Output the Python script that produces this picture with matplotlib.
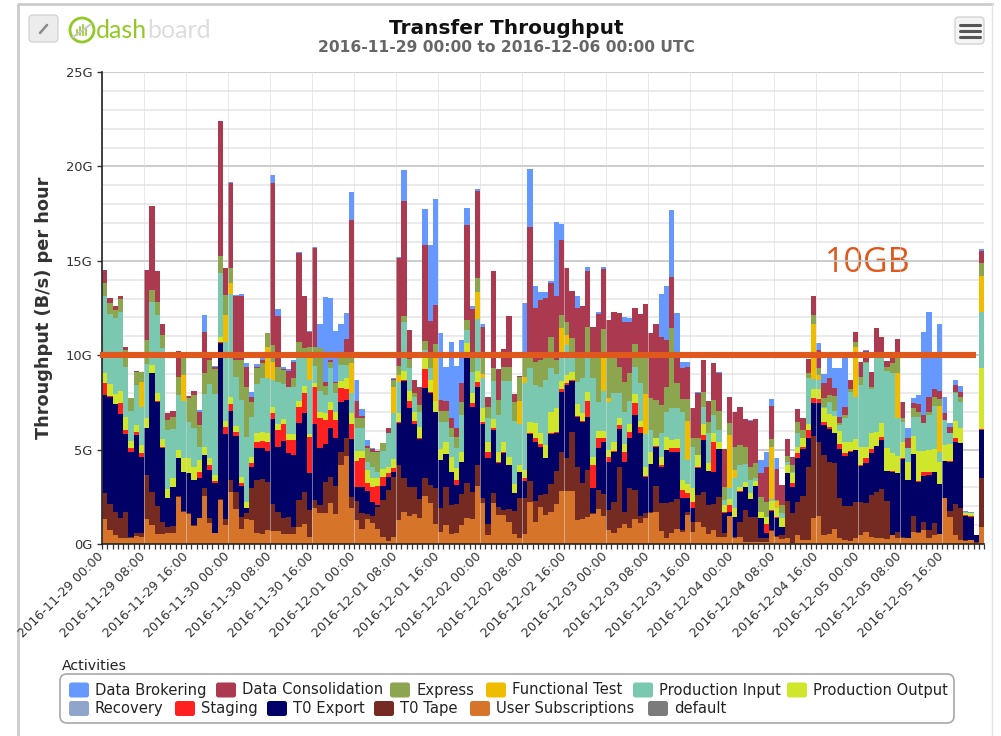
import numpy as np
import matplotlib
matplotlib.use('Agg')
import matplotlib.pyplot as plt
from matplotlib.patches import FancyBboxPatch, Circle, Rectangle

# hourly bars, values are the top of each stacked layer in G
user_top = [
  1.33,.74,.48,.30,.30,.34,.44,.35,1.33,1.01,.53,.53,.60,.60,2.51,1.71,1.59,.97,1.36,2.56,1.10,.57,2.33,1.01,2.77,1.86,.80,1.33,
  1.27,.57,.51,.74,.69,.69,.51,.51,.51,.92,1.04,.39,1.89,1.63,1.63,2.16,1.57,4.19,4.66,1.89,1.27,.80,1.33,1.10,.80,.39,.16,.39,
  1.27,1.71,1.50,1.57,1.40,2.56,2.16,1.04,.62,1.01,.51,.57,1.01,1.36,1.33,3.09,2.16,.48,2.16,1.54,1.54,1.15,.51,.34,.51,2.24,1.18,1.98,
  1.54,1.71,2.10,2.81,2.81,2.81,1.27,1.33,1.45,1.57,1.84,1.50,.74,.57,.87,1.04,.83,1.33,1.10,1.40,1.66,1.71,.69,.34,.57,.80,.65,1.54,
  .65,1.18,.88,.53,.74,.35,.39,1.48,.30,.35,.12,.12,.12,.12,.12,.71,.39,.25,.30,.04,.48,.21,.21,1.40,1.48,.48,.53,.78,
  .30,.21,.16,.30,.48,.65,.39,.30,.30,.27,.48,.30,.30,.30,.62,.60,.74,.34,.48,.53,2.42,1.45,.48,.21,.16,.21,.07,.92]
tape_top = [
  2.69,2.10,1.71,1.36,1.71,.36,.57,.57,3.66,2.74,2.03,1.18,.92,.97,2.53,1.73,1.62,1.0,1.38,2.95,1.36,.6,2.36,1.31,3.39,2.74,1.45,1.63,
  2.99,3.39,3.45,3.30,2.10,1.71,1.36,1.45,.92,2.33,2.74,1.80,2.33,2.07,3.30,3.57,3.09,4.86,5.60,2.51,2.28,1.63,1.57,1.50,1.98,2.33,2.86,3.57,
  4.19,3.52,3.04,3.04,2.39,3.48,3.13,2.99,1.89,3.04,2.07,2.10,2.63,3.22,2.74,4.19,2.42,1.04,2.69,1.98,1.80,1.86,1.75,2.42,2.42,3.34,2.28,2.60,
  2.63,3.16,3.87,4.86,4.54,5.95,4.10,3.22,3.92,1.63,2.86,2.63,1.80,2.24,4.10,1.71,2.99,2.86,1.50,1.63,1.68,3.09,2.16,2.16,2.21,2.39,.74,1.71,
  1.18,2.60,2.77,2.07,2.10,2.47,.60,1.50,.35,1.18,1.80,1.41,1.45,.30,.30,.74,.42,.48,2.30,1.66,2.24,2.56,4.06,5.72,5.42,4.72,4.36,4.28,
  2.42,2.03,2.03,2.24,2.24,2.16,2.60,2.77,2.90,2.28,.50,.65,.35,.32,1.50,.62,1.18,.74,1.10,.55,2.44,1.77,2.10,1.89,.21,.23,.12,3.48]
export_top = [
  7.90,7.81,7.40,6.87,5.81,4.89,5.78,4.63,6.13,9.05,7.54,5.11,2.42,3.00,4.54,3.80,3.75,3.39,3.52,4.72,3.92,3.22,10.62,5.81,7.07,5.74,3.07,1.89,
  4.10,5.07,5.07,4.93,6.63,5.16,5.46,4.81,4.72,6.40,6.96,3.75,6.34,5.07,5.28,6.13,5.60,7.51,7.63,5.57,3.04,3.04,2.81,2.21,2.07,3.07,3.57,3.80,
  6.43,8.64,7.19,6.34,5.57,8.25,7.99,6.98,4.45,4.75,3.80,3.13,4.33,9.93,7.28,8.34,6.34,4.58,6.04,4.31,4.84,4.19,2.69,3.80,3.34,5.85,5.42,5.16,
  4.54,5.81,5.90,8.04,8.43,8.64,6.75,6.48,6.75,2.95,5.11,5.39,4.36,4.89,6.10,4.33,5.64,6.84,5.90,3.57,4.24,5.16,4.10,4.98,4.86,4.86,2.46,2.46,
  1.89,4.05,5.51,3.87,3.83,5.02,1.66,1.71,1.41,2.77,3.00,2.37,3.07,1.36,.60,1.77,1.36,.88,3.75,3.00,4.58,5.02,5.64,7.46,7.46,6.31,6.08,5.87,
  5.04,4.68,4.89,4.98,4.15,4.28,4.81,5.19,5.51,3.87,3.83,3.75,4.51,3.39,4.77,3.30,3.62,3.66,3.80,3.16,4.40,4.36,5.42,5.34,1.50,1.45,.48,6.04]
staging_top = [
  8.52,7.84,7.42,7.46,6.04,5.07,5.95,4.81,6.15,9.07,7.56,5.13,2.44,3.02,4.56,3.82,3.77,3.41,3.80,4.74,4.19,3.36,10.69,6.22,7.40,5.95,3.22,1.91,
  4.31,5.42,5.48,5.42,6.93,6.04,6.34,5.51,5.51,7.26,7.99,5.69,8.29,6.66,6.57,7.10,6.57,8.25,8.22,6.34,4.40,4.54,3.22,3.04,3.07,3.57,3.75,4.05,
  6.45,8.66,7.58,6.52,5.59,9.28,8.04,7.00,4.47,4.77,3.82,3.39,4.35,9.95,7.46,8.60,6.48,4.86,6.13,4.33,4.89,4.21,2.71,3.82,3.48,5.90,5.64,5.28,
  4.56,5.87,5.95,8.22,8.52,8.66,6.77,6.50,7.58,4.19,5.60,5.64,4.63,4.91,6.31,4.89,5.95,7.46,6.22,3.59,4.26,5.18,4.19,5.00,5.07,5.07,2.86,2.69,
  2.24,4.07,5.78,3.89,5.42,5.04,1.68,2.07,1.43,2.79,3.02,2.39,3.09,1.38,1.04,1.80,1.45,.90,3.77,3.25,4.84,5.16,6.04,7.72,7.67,6.48,6.22,5.90,
  5.28,4.81,4.91,5.00,4.17,4.54,5.04,5.21,5.69,3.89,3.85,3.77,4.53,3.41,4.79,3.32,3.80,3.80,3.82,3.18,4.42,4.38,5.63,5.36,1.52,1.47,.50,6.08]
prodout_top = [
  9.05,8.46,7.93,8.11,6.75,5.46,6.31,5.25,6.66,9.49,7.99,5.57,2.92,3.48,4.98,4.54,4.54,4.10,4.45,5.16,4.58,3.66,10.99,6.54,7.77,6.27,3.57,2.21,
  4.63,5.90,5.95,5.90,7.28,6.34,6.61,5.81,5.81,7.58,8.37,5.81,8.52,7.01,6.93,7.54,7.01,8.64,8.78,6.93,4.93,4.93,3.92,3.52,3.52,3.98,4.10,4.51,
  6.93,9.17,8.11,6.98,6.22,9.88,8.69,7.58,5.04,5.42,4.63,4.05,4.89,10.67,7.99,9.17,7.19,5.42,6.63,4.86,5.39,4.63,3.16,4.19,3.92,6.48,6.40,5.87,
  5.25,7.01,7.19,8.64,8.96,9.13,7.40,6.93,8.07,4.63,6.01,6.01,4.98,5.42,6.66,5.28,6.34,7.93,6.52,4.10,4.86,5.60,4.63,5.69,5.51,5.57,3.39,3.16,
  2.95,4.72,6.36,4.28,5.90,5.42,2.07,2.37,1.89,3.04,3.30,2.69,3.36,1.71,1.45,2.30,1.89,1.36,4.19,3.75,5.16,5.60,6.34,8.20,8.20,7.19,6.89,6.78,
  5.99,5.42,5.42,5.55,5.16,5.16,5.87,5.95,6.40,5.07,4.81,4.68,5.42,4.33,5.74,4.93,4.93,4.98,5.04,4.36,5.25,5.28,6.54,6.13,1.66,1.63,.50,9.31]
prodin_top = [
  13.11,12.19,11.96,12.31,9.40,7.05,8.43,7.28,9.52,12.84,12.14,10.37,6.04,6.08,7.90,7.55,6.45,6.13,5.16,7.93,8.46,7.93,14.35,10.72,13.23,8.87,7.63,5.69,
  6.75,8.46,8.78,8.78,8.69,8.60,8.46,8.34,8.29,9.84,9.84,8.69,9.43,8.11,7.90,9.31,7.99,9.49,9.49,7.99,6.17,6.17,4.36,4.10,3.83,4.93,5.87,6.93,
  8.60,11.75,9.31,7.76,6.98,10.28,9.31,7.58,6.45,6.48,5.69,5.07,6.84,11.34,9.13,11.93,8.78,6.66,8.64,6.84,8.64,8.64,6.52,6.34,8.52,9.31,8.43,8.34,
  8.69,9.31,8.99,9.88,10.55,9.88,8.60,8.78,9.88,8.78,7.54,8.11,7.54,7.99,7.99,7.01,7.58,9.40,8.52,5.81,6.04,5.60,5.87,7.01,7.19,7.19,7.01,4.45,
  5.16,4.72,7.28,5.87,6.84,6.04,2.33,2.95,3.48,4.19,4.24,3.39,3.48,1.71,1.45,2.37,1.89,1.63,4.36,3.83,5.87,5.60,8.78,8.73,8.69,7.24,7.54,7.07,
  6.31,6.66,8.07,7.81,8.43,9.58,8.22,9.93,9.93,9.17,9.05,6.66,6.48,5.07,6.75,6.75,6.40,6.84,7.33,4.86,6.57,5.87,7.99,7.51,1.70,1.65,.50,12.31]
# functional test only shows up in a few hours
functest_bars = [7,15,23,24,31,32,39,47,55,56,63,71,72,79,80,87,88,95,96,103,111,119,120,127,128,135,136,143,151,159,167]
functest_tops = [8.60,8.96,12.14,13.82,10.41,9.66,9.88,9.58,8.34,8.96,9.89,13.37,8.99,7.58,8.82,11.43,11.08,10.19,7.72,7.93,6.54,5.78,3.92,5.16,2.30,11.66,8.96,10.42,9.05,7.33,14.22]
express_top = [
  13.82,12.76,12.40,12.97,10.28,7.72,9.13,9.13,10.81,13.46,12.84,11.08,6.57,6.75,8.87,9.84,7.72,7.90,6.31,9.05,9.75,9.28,15.28,13.20,14.61,9.75,9.75,8.34,
  7.54,9.31,9.58,11.20,10.53,9.40,9.22,8.34,8.78,10.72,10.37,10.41,10.41,10.37,8.39,9.66,8.52,9.93,9.93,9.93,6.66,6.66,5.07,4.89,4.89,5.34,5.87,8.69,
  9.43,12.05,9.79,7.99,7.37,10.76,9.84,10.60,7.05,7.05,6.17,5.69,7.54,11.87,9.84,14.08,9.88,7.28,9.31,7.63,9.40,9.36,7.54,8.82,9.88,9.88,9.66,9.75,
  9.84,10.95,9.75,12.14,11.75,10.90,9.88,10.19,11.52,9.90,9.88,11.40,9.88,9.84,9.36,8.60,9.05,10.60,9.88,9.88,7.72,7.63,7.37,8.34,11.46,8.52,7.67,7.67,
  5.60,5.60,8.07,6.48,7.63,7.07,3.04,6.40,5.16,5.25,5.16,4.10,4.28,2.51,2.24,5.55,2.33,2.07,4.68,4.19,6.48,6.04,9.05,12.14,9.31,7.72,7.90,7.84,
  6.40,6.84,8.22,10.69,8.87,9.63,8.34,9.95,9.95,9.35,9.58,9.84,6.70,5.10,7.19,7.01,6.40,7.01,7.76,7.69,6.57,5.87,8.07,7.76,1.70,1.65,.50,14.88]
consol_top = [
  14.52,13.02,12.58,13.11,10.41,7.72,9.17,9.13,14.52,17.88,14.47,11.64,6.93,7.05,10.23,9.93,7.86,8.11,7.00,11.25,10.02,9.40,22.42,14.61,19.12,13.11,13.11,9.40,
  7.81,9.40,9.75,11.20,19.12,12.10,9.28,9.17,9.66,15.41,13.11,11.25,15.67,10.37,8.60,9.75,8.60,9.93,10.87,17.17,7.58,6.80,5.21,5.04,4.93,5.34,6.17,8.73,
  15.14,18.18,11.31,8.69,8.34,15.85,11.82,12.67,7.63,7.58,6.66,6.13,8.52,16.87,12.46,18.71,11.47,7.77,14.47,9.28,10.34,12.05,7.93,8.92,10.02,16.77,12.49,12.93,
  13.02,13.82,13.11,16.11,14.61,13.41,12.49,12.58,14.47,11.47,12.17,14.58,11.87,12.31,12.23,11.78,11.75,12.49,12.17,12.70,11.20,11.66,10.99,10.81,14.13,9.88,9.31,9.36,
  7.19,8.02,9.75,7.60,9.58,9.05,5.02,7.77,7.01,7.28,6.61,6.54,6.61,3.75,4.10,7.33,3.98,3.13,5.55,4.63,7.14,6.66,9.81,13.11,10.28,8.55,8.78,8.25,
  6.75,7.24,8.69,11.25,9.63,10.23,9.10,11.43,10.94,9.70,9.84,10.87,7.51,5.60,7.46,7.40,6.84,7.81,8.22,8.11,6.93,6.22,8.43,8.07,1.72,1.66,.50,15.53]
# data brokering only where it sticks out over consolidation
broker_bars = [18,19,21,24,25,26,27,28,29,30,32,33,34,35,36,37,38,39,40,41,42,43,44,45,46,47,48,49,50,51,55,56,57,61,62,63,64,65,66,67,68,69,70,71,72,
  80,81,82,83,84,85,86,87,90,91,92,94,95,99,100,106,107,108,109,110,111,113,117,123,125,126,127,128,136,137,138,139,
  140,141,144,145,153,154,155,156,157,158,159,160,161,162,163,164,165,167]
broker_tops = [7.10,12.14,9.45,19.15,13.20,13.23,9.58,8.04,9.54,9.88,19.52,12.46,9.36,9.26,9.75,15.46,13.16,11.29,15.74,11.66,13.06,13.02,11.29,11.66,12.23,18.67,8.69,7.14,5.51,5.07,8.78,15.18,19.82,17.74,15.85,18.27,11.20,9.40,10.72,9.43,10.78,17.79,12.63,18.80,11.66,
  12.79,19.86,13.69,13.37,13.34,13.94,17.05,16.94,13.11,12.63,14.66,12.31,14.65,12.00,11.96,13.23,13.64,17.70,12.23,9.63,9.63,8.07,9.13,6.57,4.45,4.89,7.67,4.54,10.67,8.99,9.96,9.31,
  9.31,9.93,9.66,10.28,6.17,7.72,7.90,11.22,12.31,9.84,11.64,7.81,6.40,8.69,8.39,1.75,1.68,15.60]

activities_row1 = ['Data Brokering', 'Data Consolidation', 'Express', 'Functional Test', 'Production Input', 'Production Output']
activities_row2 = ['Recovery', 'Staging', 'T0 Export', 'T0 Tape', 'User Subscriptions', 'default']
colors = {
  'Data Brokering': '#6699ff', 'Data Consolidation': '#ab3a51', 'Express': '#8ba64e', 'Functional Test': '#f0bc00',
  'Production Input': '#7bc8b1', 'Production Output': '#cfe62b', 'Recovery': '#8fa5c9', 'Staging': '#ff2020',
  'T0 Export': '#000066', 'T0 Tape': '#752a22', 'User Subscriptions': '#d67429', 'default': '#7b7b7b'}
hour_labels = ['2016-11-29 00:00', '2016-11-29 08:00', '2016-11-29 16:00', '2016-11-30 00:00', '2016-11-30 08:00', '2016-11-30 16:00',
  '2016-12-01 00:00', '2016-12-01 08:00', '2016-12-01 16:00', '2016-12-02 00:00', '2016-12-02 08:00', '2016-12-02 16:00',
  '2016-12-03 00:00', '2016-12-03 08:00', '2016-12-03 16:00', '2016-12-04 00:00', '2016-12-04 08:00', '2016-12-04 16:00',
  '2016-12-05 00:00', '2016-12-05 08:00', '2016-12-05 16:00']
y_ticks = [0, 5, 10, 15, 20, 25]
y_labels = ['0G', '5G', '10G', '15G', '20G', '25G']

functest_top = np.array(prodin_top)
functest_top[functest_bars] = functest_tops
broker_top = np.array(consol_top)
broker_top[broker_bars] = broker_tops

stack_names = ['User Subscriptions', 'T0 Tape', 'T0 Export', 'Staging', 'Production Output', 'Production Input',
  'Functional Test', 'Express', 'Data Consolidation', 'Data Brokering']
tops = np.array([user_top, tape_top, export_top, staging_top, prodout_top, prodin_top, functest_top, express_top, consol_top, broker_top])
tops = np.maximum.accumulate(tops, axis=0)

W, H = 1001, 736
fig = plt.figure(figsize=(W/100, H/100), dpi=100)

# everything around the plot is laid out in pixels on a full-figure axes
deco = fig.add_axes([0, 0, 1, 1])
deco.set_xlim(0, W)
deco.set_ylim(H, 0)
deco.axis('off')

ax = fig.add_axes([102/W, 1-544/H, (984-102)/W, (544-72)/H])
ax.patch.set_alpha(0)
hours = np.arange(tops.shape[1])
bottom = np.zeros(tops.shape[1])
for name, top in zip(stack_names, tops):
  ax.bar(hours+0.5, top-bottom, bottom=bottom, width=1.0, color=colors[name], zorder=3, linewidth=0)
  bottom = top

ax.set_xlim(0, 168)
ax.set_ylim(0, 25)
ax.set_yticks(y_ticks)
ax.set_yticklabels(y_labels, fontsize=9.4, color='#333333')
ax.set_yticks(np.arange(0, 26), minor=True)
ax.grid(True, axis='y', which='major', color='#c4c4c4', lw=1.2, zorder=0)
ax.grid(True, axis='y', which='minor', color='#e6e6e6', lw=1.2, zorder=0)
ax.tick_params(axis='y', which='minor', length=0)
ax.tick_params(axis='y', which='major', length=3.5, width=1, color='#333333', pad=3.5)

ax.set_xticks(np.arange(0, 168, 8))
ax.set_xticklabels(hour_labels, rotation=45, ha='right', va='center', rotation_mode='anchor', fontsize=9.2, color='#333333')
ax.set_xticks(np.arange(0, 169), minor=True)
ax.tick_params(axis='x', which='both', length=3.5, width=0.9, color='#333333')
ax.tick_params(axis='x', which='major', pad=4)
for x in np.arange(0, 168, 8):
  ax.axvline(x, color='#d8d8d8', lw=0.7, alpha=0.55, zorder=4)

for s in ['top', 'right']:
  ax.spines[s].set_visible(False)
for s in ['left', 'bottom']:
  ax.spines[s].set_color('#222222')
  ax.spines[s].set_linewidth(1.2)
  ax.spines[s].set_zorder(5)

ax.set_ylabel('Throughput (B/s) per hour', fontsize=12.8, fontweight='bold', color='#333333', labelpad=0)
ax.yaxis.set_label_coords((53-102)/(984-102), 0.5)

# the hand drawn 10GB marker on top of the screenshot
ax.plot([-0.4, 166.5], [10, 10], color='#e0591c', lw=4.4, solid_capstyle='butt', clip_on=False, zorder=6)
deco.text(825, 263, '10GB', color='#e0591c', fontsize=24.5, family='Open Sans', va='center', ha='left')

deco.text(506, 29, 'Transfer Throughput', fontsize=14.5, fontweight='bold', color='#111111', ha='center', va='center')
deco.text(506, 48, '2016-11-29 00:00 to 2016-12-06 00:00 UTC', fontsize=11.2, fontweight='bold', color='#666666', ha='center', va='center')

# panel frame
deco.plot([18, 18, 992], [736, 4, 4], color='#cccccc', lw=2)
deco.plot([992, 992], [4, 736], color='#e2e2e2', lw=1)

# link button and logo
deco.add_patch(FancyBboxPatch((29, 15), 29, 27, boxstyle='round,pad=0,rounding_size=4', fc='#ececec', ec='#d4d4d4', lw=1))
deco.plot([40, 47], [33, 25], color='#8a8a8a', lw=1.8, solid_capstyle='round')
deco.add_patch(Circle((82, 30), 12, fc='none', ec='#93c926', lw=2))
for bx, bh in [(77, 5), (80, 8), (83, 10), (86, 6)]:
  deco.plot([bx, bx], [35, 35-bh], color='#93c926', lw=1.2)
deco.plot([73, 91], [37, 24], color='#c8c8c8', lw=1.4)
deco.text(96, 30, 'dash', fontsize=18, family='Lato', color='#93c926', va='center', ha='left')
deco.text(147, 30, 'board', fontsize=18, family='Lato', color='#dddddd', va='center', ha='left')

# menu button
deco.add_patch(FancyBboxPatch((955, 17), 29, 27, boxstyle='round,pad=0,rounding_size=4', fc='#f4f4f4', ec='#d4d4d4', lw=1))
for y in [25, 31, 37]:
  deco.plot([959.5, 980], [y, y], color='#555555', lw=2.2, solid_capstyle='round')

# legend, the two rows do not line up so it is placed by hand
deco.text(62, 666, 'Activities', fontsize=10.2, color='#222222', va='center', ha='left')
deco.add_patch(FancyBboxPatch((60, 674), 894, 49, boxstyle='round,pad=0,rounding_size=7', fc='white', ec='#a8a8a8', lw=1.2))
row1_x = [69, 216, 390, 486, 633, 787]
row2_x = [69, 175, 267, 374, 470, 648]
for names, xs, y in [(activities_row1, row1_x, 690), (activities_row2, row2_x, 708.5)]:
  for name, x in zip(names, xs):
    deco.add_patch(FancyBboxPatch((x, y-7.5), 20, 15, boxstyle='round,pad=0,rounding_size=2.5', fc=colors[name], ec='none'))
    deco.text(x+26, y+4.5, name, fontsize=10.6, color='#222222', va='baseline', ha='left')

fig.savefig('out.png', dpi=100)
